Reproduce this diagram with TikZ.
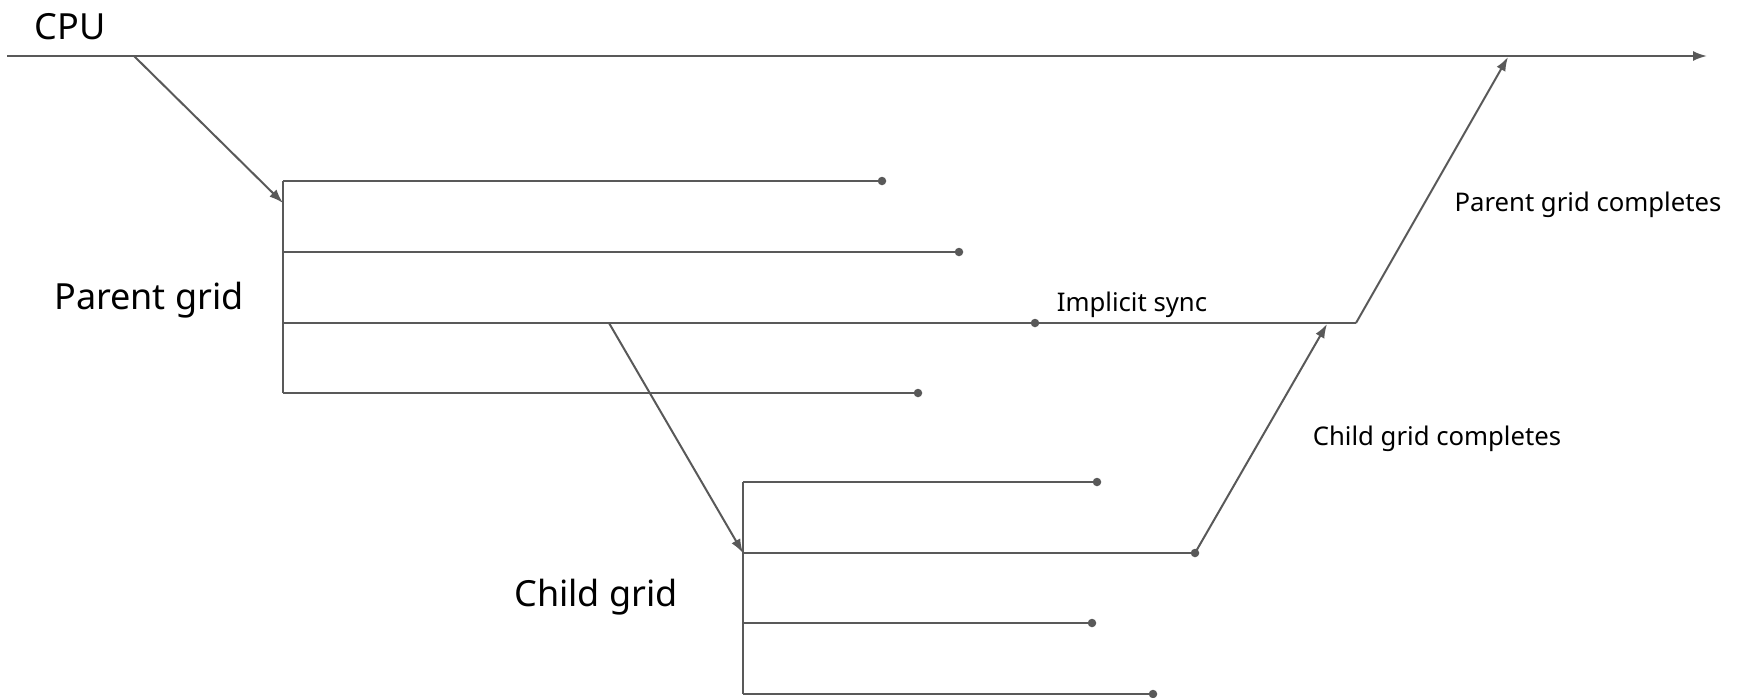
\documentclass[tikz,border=0pt]{standalone}
\usepackage{fontspec}
\setmainfont{Noto Sans}
\usetikzlibrary{arrows.meta}
\definecolor{ink}{HTML}{595959}
\tikzset{
  wire/.style={draw=ink, line width=2pt},
  flow/.style={wire, -{Latex[length=14pt,width=10pt]}},
  enddot/.style={circle, fill=ink, inner sep=0pt, minimum size=8.5pt},
  biglabel/.style={inner sep=0pt, font=\fontsize{36}{42}\selectfont},
  smalllabel/.style={inner sep=0pt, font=\fontsize{25.7}{30}\selectfont},
}
\begin{document}
\begin{tikzpicture}[x=1pt,y=-1pt]
\useasboundingbox (0,0) rectangle (1742,697);

% CPU timeline
\coordinate (cpuL) at (7,56);
\coordinate (cpuR) at (1707,56);
\coordinate (launch) at (134,56);
\coordinate (back) at (1508,57);
\draw[flow] (cpuL) -- (cpuR);
\node[biglabel] (cpu) at (70,27) {CPU};

% Parent grid
\coordinate (pTop) at (283,181);
\coordinate (pBot) at (283,393);
\coordinate (pIn) at (283,203);
\coordinate (p1) at (283,181);
\coordinate (p2) at (283,252);
\coordinate (p3) at (283,323);
\coordinate (p4) at (283,393);
\node[enddot] (d1) at (882,181) {};
\node[enddot] (d2) at (959,252) {};
\node[enddot] (d3) at (1035,323) {};
\node[enddot] (d4) at (918,393) {};
\coordinate (sync) at (1356,323);
\coordinate (fork) at (609,323);
\draw[wire] (pTop) -- (pBot);
\draw[wire] (p1) -- (d1);
\draw[wire] (p2) -- (d2);
\draw[wire] (p3) -- (d3) -- (sync);
\draw[wire] (p4) -- (d4);
\node[biglabel] (pgrid) at (149,300) {Parent grid};
\node[smalllabel] (isync) at (1132,305) {Implicit sync};

% Child grid
\coordinate (cTop) at (743,482);
\coordinate (cBot) at (743,694);
\coordinate (c1) at (743,482);
\coordinate (c2) at (743,553);
\coordinate (c3) at (743,623);
\coordinate (c4) at (743,694);
\node[enddot] (e1) at (1097,482) {};
\node[enddot] (e2) at (1195,553) {};
\node[enddot] (e3) at (1092,623) {};
\node[enddot] (e4) at (1153,694) {};
\draw[wire] (cTop) -- (cBot);
\draw[wire] (c1) -- (e1);
\draw[wire] (c2) -- (e2);
\draw[wire] (c3) -- (e3);
\draw[wire] (c4) -- (e4);
\node[biglabel] (cgrid) at (596,597) {Child grid};

% Launches and completions
\coordinate (syncTip) at (1327,324);
\draw[flow] (launch) -- (pIn);
\draw[flow] (fork) -- (c2);
\draw[flow] (e2.center) -- (syncTip);
\draw[flow] (sync) -- (back);
\node[smalllabel] (ccomp) at (1437,439) {Child grid completes};
\node[smalllabel] (pcomp) at (1588,205) {Parent grid completes};
\end{tikzpicture}
\end{document}
